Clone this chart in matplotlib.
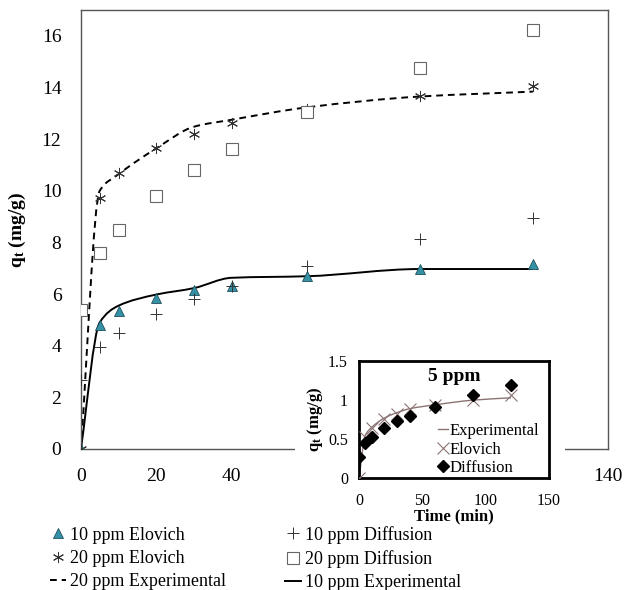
import matplotlib
matplotlib.use('Agg')
import matplotlib.pyplot as plt
from matplotlib.path import Path
from matplotlib.patches import PathPatch, Rectangle
import numpy as np

plt.rcParams['font.family'] = ['Liberation Serif', 'DejaVu Serif']
plt.rcParams['mathtext.fontset'] = 'custom'
plt.rcParams['mathtext.rm'] = 'Liberation Serif'
plt.rcParams['mathtext.bf'] = 'Liberation Serif:bold'

# contact time (min)
time = [0, 5, 10, 20, 30, 40, 60, 90, 120]

# 10 ppm
exp_10 = [0, 4.9, 5.55, 5.98, 6.23, 6.63, 6.69, 6.97, 6.97]
elovich_10 = [0, 4.79, 5.33, 5.85, 6.15, 6.33, 6.69, 6.98, 7.17]
diffusion_10 = [2.68, 3.95, 4.49, 5.23, 5.81, 6.3, 7.08, 8.12, 8.93]

# 20 ppm
exp_20 = [0, 10.0, 10.64, 11.64, 12.48, 12.75, 13.23, 13.65, 13.84]
elovich_20 = [0, 9.73, 10.68, 11.64, 12.19, 12.61, 13.17, 13.68, 14.05]
diffusion_20 = [5.40, 7.6, 8.5, 9.8, 10.8, 11.61, 13.04, 14.76, 16.21]

# 5 ppm (inset)
exp_5 = [0, 0.55, 0.65, 0.77, 0.84, 0.89, 0.94, 1.0, 1.03]
elovich_5 = [0, 0.53, 0.64, 0.76, 0.82, 0.88, 0.94, 1.0, 1.06]
diffusion_5 = [0.27, 0.45, 0.53, 0.64, 0.73, 0.80, 0.91, 1.06, 1.19]


def smooth_line(ax, x, y, **kw):
    # smoothed line through every point, cubic Bezier segments with
    # monotone (Fritsch-Carlson) tangents so it never overshoots
    x = np.asarray(x, float)
    y = np.asarray(y, float)
    h = np.diff(x)
    d = np.diff(y) / h
    m = np.zeros_like(y)
    m[0], m[-1] = d[0], d[-1]
    for i in range(1, len(y) - 1):
        if d[i - 1] * d[i] <= 0:
            m[i] = 0
        else:
            w1 = 2 * h[i] + h[i - 1]
            w2 = h[i] + 2 * h[i - 1]
            m[i] = (w1 + w2) / (w1 / d[i - 1] + w2 / d[i])
    verts = [(x[0], y[0])]
    codes = [Path.MOVETO]
    for i in range(len(x) - 1):
        verts += [(x[i] + h[i] / 3, y[i] + m[i] * h[i] / 3),
                  (x[i + 1] - h[i] / 3, y[i + 1] - m[i + 1] * h[i] / 3),
                  (x[i + 1], y[i + 1])]
        codes += [Path.CURVE4] * 3
    patch = PathPatch(Path(verts, codes), fill=False, **kw)
    ax.add_patch(patch)
    return patch


fig = plt.figure(figsize=(6.27, 5.9), dpi=100)
ax = fig.add_axes([0.129, 0.239, 0.841, 0.744])
ax.set_zorder(0)

dash = (0, (3.5, 2.5))
smooth_line(ax, time, exp_20, color='black', lw=1.4, linestyle=dash, zorder=2)
smooth_line(ax, time, exp_10, color='black', lw=1.4, zorder=2)

ax.plot(time, elovich_10, linestyle='none', marker='^', ms=7, mfc='#3591a6',
        mec='#1f4f5c', mew=0.6, label='10 ppm Elovich', zorder=3)
ax.plot(time, elovich_20, linestyle='none', marker=(6, 2, 0), ms=8, mec='#333333',
        mew=0.7, label='20 ppm Elovich', zorder=3)
ax.plot([], [], color='black', lw=1.4, linestyle=dash, label='20 ppm Experimental')
ax.plot(time, diffusion_10, linestyle='none', marker='+', ms=8, mec='#333333',
        mew=0.7, label='10 ppm Diffusion', zorder=3)
ax.plot(time, diffusion_20, linestyle='none', marker='s', ms=8, mfc='white',
        mec='#666666', mew=0.8, label='20 ppm Diffusion', zorder=3)
ax.plot([], [], color='black', lw=1.4, label='10 ppm Experimental')

ax.set_xlim(0, 140)
ax.set_ylim(0, 17)
ax.set_xticks(range(0, 141, 20))
ax.set_yticks(range(0, 17, 2))
ax.tick_params(length=0, labelsize=14, pad=14)
for s in ax.spines.values():
    s.set_color('#555555')
    s.set_linewidth(1.0)
ax.set_ylabel(r'$\mathbf{q_t}$ (mg/g)', fontsize=14, fontweight='bold', labelpad=10)

fig.legend(loc='lower left', bbox_to_anchor=(0.062, -0.02), ncol=2, frameon=False,
           fontsize=13, handlelength=0.9, handletextpad=0.2, columnspacing=3.3,
           labelspacing=0.34, borderaxespad=0.2)

# white plot area of the inset chart, covering the main chart underneath
fig.patches.append(Rectangle((295 / 627, 1 - 528 / 590), 270 / 627, 183 / 590,
                             transform=fig.transFigure, facecolor='white',
                             edgecolor='none', zorder=1))

# inset: 5 ppm
ins = fig.add_axes([0.5726, 0.1898, 0.303, 0.198])
ins.set_zorder(2)
smooth_line(ins, time, exp_5, color='#8c7474', lw=1.0, zorder=2)
ins.plot([], [], color='#8c7474', lw=1.0, label='Experimental')
ins.plot(time, elovich_5, linestyle='none', marker='x', ms=8, mec='#8c7474',
         mew=0.8, label='Elovich', zorder=3)
ins.plot(time, diffusion_5, linestyle='none', marker='D', ms=6.5, mfc='black',
         mec='black', label='Diffusion', zorder=3)
ins.set_xlim(0, 150)
ins.set_ylim(0, 1.5)
ins.set_xticks([0, 50, 100, 150])
ins.set_yticks([0, 0.5, 1, 1.5])
ins.set_yticklabels(['0', '0.5', '1', '1.5'])
ins.tick_params(length=0, labelsize=11.5, pad=8)
ins.tick_params(axis='x', pad=11)
for s in ins.spines.values():
    s.set_color('black')
    s.set_linewidth(2.0)
ins.set_xlabel('Time (min)', fontsize=12, fontweight='bold', labelpad=-1)
ins.set_ylabel(r'$\mathbf{q_t}$ (mg/g)', fontsize=12, fontweight='bold', labelpad=2)
ins.text(0.5, 0.87, '5 ppm', transform=ins.transAxes, ha='center', va='center',
         fontsize=14, fontweight='bold')
ins.legend(loc='lower right', bbox_to_anchor=(1.0, -0.07), frameon=False, fontsize=12,
           handlelength=0.6, handletextpad=0.1, labelspacing=0.15, borderaxespad=0.2)

fig.savefig('out.png', dpi=100)
